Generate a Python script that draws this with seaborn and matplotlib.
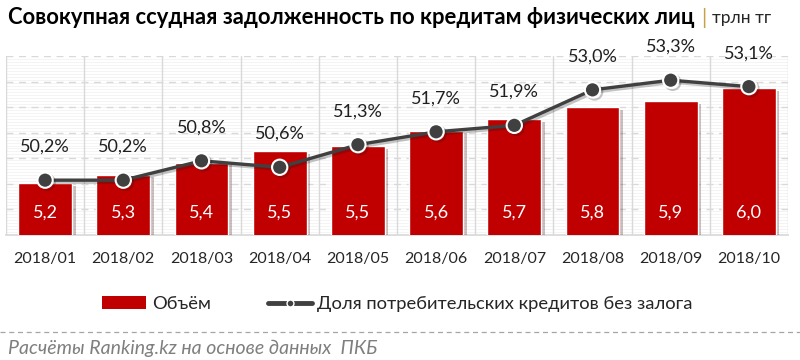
import numpy as np
import pandas as pd
import matplotlib
matplotlib.use("Agg")
import matplotlib.pyplot as plt
import seaborn as sns
from matplotlib import patheffects as pe
from matplotlib.patches import Patch
from matplotlib.lines import Line2D

# ---- data ----
months = ["2018/01", "2018/02", "2018/03", "2018/04", "2018/05",
          "2018/06", "2018/07", "2018/08", "2018/09", "2018/10"]
volume = [5.20, 5.27, 5.37, 5.47, 5.51, 5.64, 5.74, 5.84, 5.89, 6.00]
share = [50.2, 50.2, 50.8, 50.6, 51.3, 51.7, 51.9, 53.0, 53.3, 53.1]

title_main = "Совокупная ссудная задолженность по кредитам физических лиц"
title_unit = "трлн тг"
legend_bar = "Объём"
legend_line = "Доля потребительских кредитов без залога"
source_text = "Расчёты Ranking.kz на основе данных  ПКБ"

RED = "#C00000"
DARK = "#404040"
GRID = "#D9D9D9"

sns.set_theme(style="white")
plt.rcParams["font.family"] = ["Lato", "DejaVu Sans"]

df = pd.DataFrame({"month": months, "volume": volume, "share": share})
n = len(months)

fig = plt.figure(figsize=(8, 3.6), dpi=100)
ax = fig.add_axes([6 / 800, 125 / 360, 782 / 800, 179 / 360])

vol_lim = (4.76, 6.27)
share_lim = (48.5, 54.05)

# background texture + grid
for k in range(1, 60):
    ax.axhline(vol_lim[0] + k * (vol_lim[1] - vol_lim[0]) / 60, color="#F3F3F3", lw=0.6, zorder=0.2)
for k in range(1, 8):
    ax.axhline(vol_lim[0] + k * (vol_lim[1] - vol_lim[0]) / 7, color=GRID, lw=1,
               ls=(0, (5, 4)), zorder=0.5)
for x in np.arange(-0.5, n + 0.5, 1.0):
    ax.axvline(x, color=GRID, lw=1, zorder=0.6)

sns.barplot(data=df, x="month", y="volume", color=RED, saturation=1, width=0.69,
            ax=ax, zorder=3)
for p in ax.patches:
    p.set_path_effects([pe.SimplePatchShadow(offset=(2.5, -2), alpha=0.25), pe.Normal()])

ax.set_ylim(*vol_lim)
ax.set_xlim(-0.5, n - 0.5)
ax.set_yticks([])
ax.set_xlabel("")
ax.set_ylabel("")
for s in ["top", "left", "right"]:
    ax.spines[s].set_visible(False)
ax.spines["bottom"].set_color(GRID)
ax.tick_params(axis="x", length=0, pad=12, labelsize=11.5, labelcolor="#262626")

for i, v in enumerate(volume):
    ax.annotate(f"{v:.1f}".replace(".", ","), (i, vol_lim[0]), xytext=(0, 16),
                textcoords="offset points", ha="center", va="center",
                color="white", fontsize=13, zorder=5)

ax2 = ax.twinx()
sns.pointplot(data=df, x="month", y="share", ax=ax2, color=DARK, errorbar=None,
              markers="o", markersize=11, linewidth=2.4)
for ln in ax2.lines:
    ln.set_markeredgecolor("white")
    ln.set_markeredgewidth(1.5)
    ln.set_path_effects([pe.SimpleLineShadow(offset=(1.5, -1.5), alpha=0.25), pe.Normal()])
ax2.set_ylim(*share_lim)
ax2.set_xlim(-0.5, n - 0.5)
ax2.set_yticks([])
ax2.set_xlabel("")
ax2.set_ylabel("")
for s in ax2.spines.values():
    s.set_visible(False)

for i, v in enumerate(share):
    ax2.annotate(f"{v:.1f}%".replace(".", ","), (i, v), xytext=(0, 24),
                 textcoords="offset points", ha="center", va="center",
                 color="#1F1F1F", fontsize=13, annotation_clip=False)

# title
t1 = fig.text(8 / 800, 1 - 18 / 360, title_main, fontweight="bold", fontsize=15.8,
              color="black", va="center", ha="left")
t2 = ax.annotate("|", xy=(1, 0.5), xycoords=t1, xytext=(5, 0), textcoords="offset points",
                 va="center", ha="left", fontsize=15, color="#C9A04A")
ax.annotate(title_unit, xy=(1, 0.5), xycoords=t2, xytext=(4, 0), textcoords="offset points",
            va="center", ha="left", fontsize=12.5, color="#262626")

# legend
handles = [Patch(facecolor=RED, edgecolor="none"),
           Line2D([0], [0], color=DARK, lw=3.5, marker="o", markersize=5,
                  markerfacecolor=DARK, markeredgecolor="white")]
fig.legend(handles, [legend_bar, legend_line], loc="center", bbox_to_anchor=(0.497, 1 - 304 / 360),
           ncol=2, frameon=False, fontsize=13.2, handlelength=2.4, handleheight=0.7,
           columnspacing=3.1, handletextpad=0.3, borderpad=0, borderaxespad=0)

# separator and source
fig.add_artist(Line2D([0, 1], [1 - 332 / 360] * 2, transform=fig.transFigure,
                      ls=(0, (4, 3)), color="#A6A6A6", lw=0.9))
fig.text(8 / 800, 1 - 348 / 360, source_text, style="italic", color="#7F7F7F",
         fontsize=14, va="center", ha="left")

fig.savefig("out.png", dpi=100)
